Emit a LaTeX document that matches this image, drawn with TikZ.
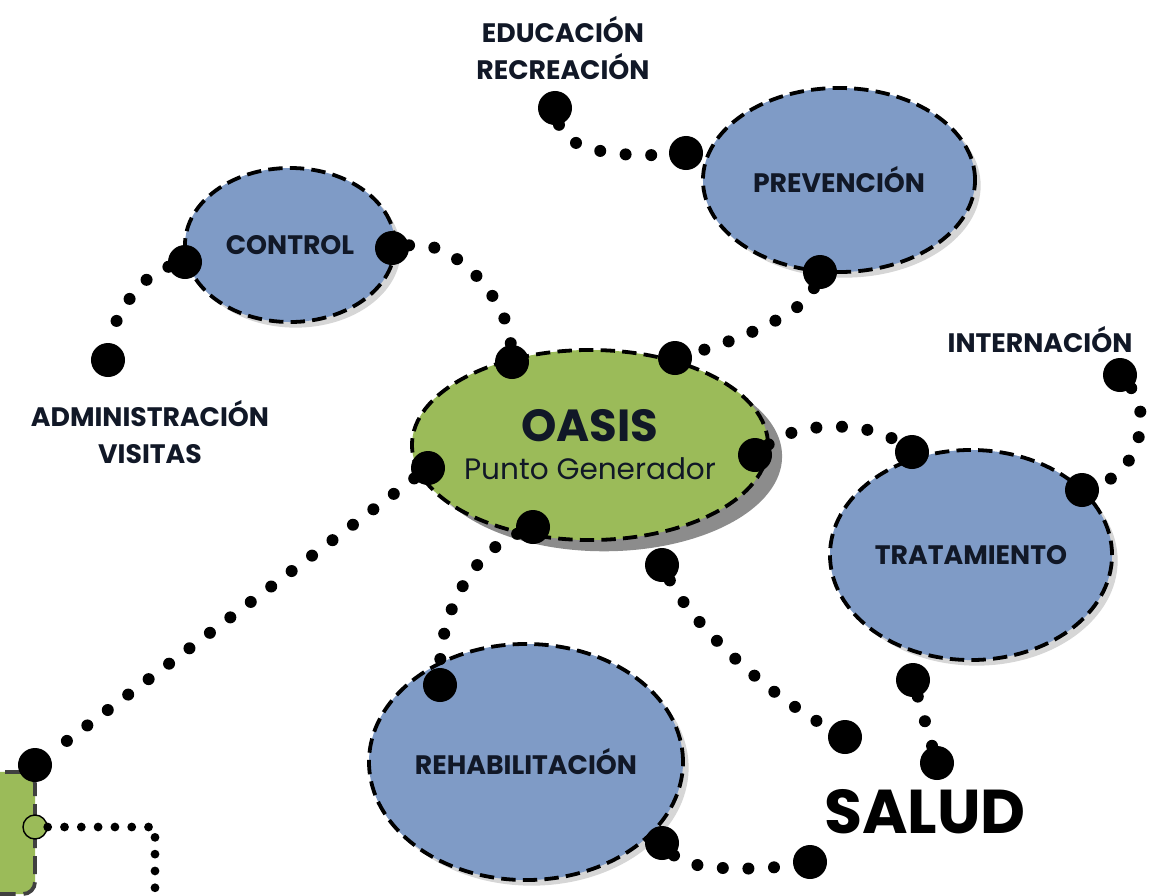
\documentclass[tikz,border=0pt]{standalone}
\usepackage{fontspec}
\setmainfont{Poppins}
\usetikzlibrary{shapes.geometric, shadows, positioning}
\definecolor{zonablue}{HTML}{7F9BC6}
\definecolor{oasisgreen}{HTML}{9BBB59}
\definecolor{bordegray}{HTML}{404040}
\definecolor{tinta}{HTML}{111827}
\tikzset{
  % zona del programa (elipse azul)
  zona/.style={ellipse, draw=black, line width=0.095cm, dash pattern=on 0.36cm off 0.18cm,
    fill=zonablue, inner sep=0pt, text=tinta, font=\fontsize{19}{22}\selectfont\bfseries,
    drop shadow={shadow xshift=4pt, shadow yshift=-4pt, fill=black, opacity=0.16}},
  % nodo central
  centro/.style={zona, fill=oasisgreen, align=center,
    drop shadow={shadow xshift=10pt, shadow yshift=-8pt, fill=black!45, opacity=1}},
  % punto de conexion
  punto/.style={circle, fill=black, minimum size=0.85cm, inner sep=0pt},
  % linea de puntos
  puntos/.style={line width=0.3cm, line cap=round, dash pattern=on 0pt off 0.64cm},
  puntosfinos/.style={line width=0.22cm, line cap=round, dash pattern=on 0pt off 0.42cm},
  % etiquetas
  lbl/.style={font=\fontsize{19}{26}\selectfont\bfseries, align=center, text=tinta},
}
\begin{document}
\begin{tikzpicture}[x=0.025cm, y=-0.025cm]
  \useasboundingbox (0,0) rectangle (1176,895);
  % zonas
  \node[zona, minimum width=5.25cm, minimum height=3.85cm] (control) at (290,245) {CONTROL};
  \node[zona, minimum width=6.8cm, minimum height=4.6cm] (prev) at (839,180) {PREVENCIÓN};
  \node[zona, minimum width=7.05cm, minimum height=5.25cm] (trat) at (971,555) {TRATAMIENTO};
  \node[zona, minimum width=7.1cm, minimum height=5.9cm] (rehab) at (526,762) {REHABILITACIÓN};
  \node[centro, minimum width=8.3cm, minimum height=4.75cm] (oasis) at (590,445)
    {{\fontsize{32}{34}\selectfont OASIS}\\[5pt]{\fontsize{21}{24}\selectfont\mdseries Punto Generador}};
  \node[draw=bordegray, line width=0.095cm, dash pattern=on 0.45cm off 0.2cm, fill=oasisgreen,
    rounded corners=0.3cm, minimum width=1.5cm, minimum height=3.05cm] (caja) at (5,833) {};
  % textos
  \node[lbl] (edu) at (563,48) {EDUCACIÓN\\RECREACIÓN};
  \node[lbl] (adm) at (150,432) {ADMINISTRACIÓN\\VISITAS};
  \node[lbl] (intern) at (1040,340) {INTERNACIÓN};
  \node[font=\fontsize{44}{48}\selectfont\bfseries] (salud) at (925,812) {SALUD};
  % puntos
  \foreach \n/\x/\y in {pEdu/555/108, pPrevL/686/153, pPrevB/820/272, pOasTR/675/358,
      pOasTL/512/362, pCtrlR/392/248, pCtrlL/185/262, pAdm/108/360, pOasL/428/468,
      pOasR/755/455, pTratT/912/452, pIntern/1120/375, pTratR/1082/490, pOasB/533/527,
      pSalA/662/565, pSalB/845/737, pTratB/913/680, pSalC/937/763, pRehT/440/685,
      pRehB/662/843, pRehE/810/862, pCaja/35/765}
    \node[punto] (\n) at (\x,\y) {};
  \node[circle, draw=black, line width=1pt, fill=oasisgreen, minimum size=0.6cm, inner sep=0pt] (pVerde) at (35,827) {};
  \coordinate (esq) at (155,827);
  \coordinate (fin) at (155,905);
  % conexiones
  \draw[puntos] (pEdu) .. controls (565,150) and (620,158) .. (pPrevL);
  \draw[puntos] (pPrevB) .. controls (805,312) and (740,340) .. (pOasTR);
  \draw[puntos] (pCtrlR) .. controls (455,238) and (508,300) .. (pOasTL);
  \draw[puntos] (pCtrlL) .. controls (140,275) and (112,320) .. (pAdm);
  \draw[puntos] (pOasL) -- (pCaja);
  \draw[puntos] (pOasR) .. controls (800,420) and (870,422) .. (pTratT);
  \draw[puntos] (pIntern) .. controls (1150,410) and (1142,470) .. (pTratR);
  \draw[puntos] (pOasB) .. controls (468,555) and (440,620) .. (pRehT);
  \draw[puntos] (pSalA) .. controls (690,620) and (760,690) .. (pSalB);
  \draw[puntos] (pTratB) -- (pSalC);
  \draw[puntos] (pRehB) .. controls (690,872) and (765,870) .. (pRehE);
  \draw[puntosfinos] (pVerde) -- (esq) -- (fin);
\end{tikzpicture}
\end{document}
